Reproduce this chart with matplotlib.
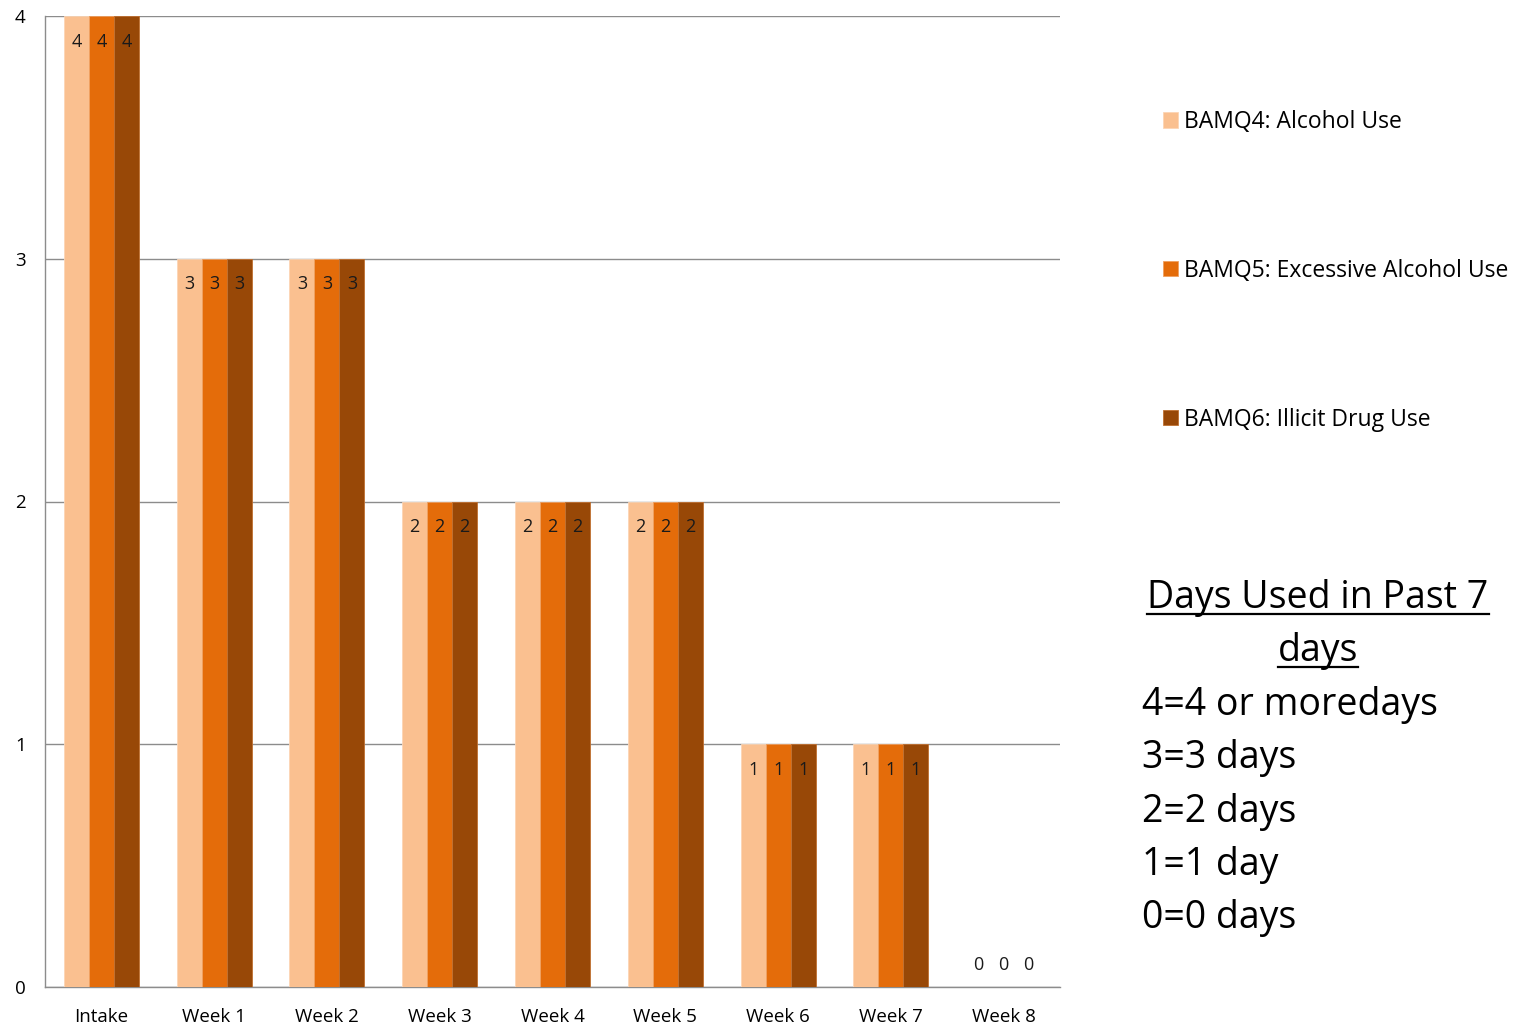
import matplotlib
matplotlib.use("Agg")
import matplotlib.pyplot as plt
from matplotlib.lines import Line2D
import numpy as np

plt.rcParams['font.family'] = ['Open Sans', 'DejaVu Sans']

categories = ["Intake", "Week 1", "Week 2", "Week 3", "Week 4",
              "Week 5", "Week 6", "Week 7", "Week 8"]
alcohol_use = [4, 3, 3, 2, 2, 2, 1, 1, 0]
excessive_alcohol = [4, 3, 3, 2, 2, 2, 1, 1, 0]
illicit_drug = [4, 3, 3, 2, 2, 2, 1, 1, 0]
series_names = ["BAMQ4: Alcohol Use", "BAMQ5: Excessive Alcohol Use",
                "BAMQ6: Illicit Drug Use"]
y_ticks = [0, 1, 2, 3, 4]
key_title = "Days Used in Past 7"
key_title_2 = "days"
key_lines = ["4=4 or moredays", "3=3 days", "2=2 days", "1=1 day", "0=0 days"]

colors = ["#FAC090", "#E46C0A", "#984807"]
edges = ["#FCD5B5", "#F0A060", "#C07030"]
grid_gray = "#8C8C8C"

W, H = 1517, 1031
fig = plt.figure(figsize=(W / 100, H / 100), dpi=100)
ax = fig.add_axes([45 / W, 1 - 987 / H, (1060 - 45) / W, (987 - 16) / H])

x = np.arange(len(categories))
bw = 0.2216
handles = []
for i, vals in enumerate([alcohol_use, excessive_alcohol, illicit_drug]):
    pos = x + (i - 1) * bw
    bars = ax.bar(pos, vals, width=bw, color=colors[i], edgecolor=edges[i],
                  linewidth=0.6, zorder=3, label=series_names[i])
    handles.append(bars)
    for px, v in zip(pos, vals):
        off = -18.5 if v > 0 else 15.8
        ax.annotate(str(v), (px, v), xytext=(0, off), textcoords="offset points",
                    ha="center", va="center", fontsize=13, color="#1a1a1a",
                    zorder=4)

ax.set_xlim(-0.5, len(categories) - 0.5)
ax.set_ylim(0, 4)
ax.set_yticks(y_ticks)
ax.set_xticks(x)
ax.set_xticklabels(categories)
ax.tick_params(axis="y", length=0, pad=14, labelsize=13.5)
ax.tick_params(axis="x", length=0, pad=15, labelsize=13.5)
ax.yaxis.grid(True, color=grid_gray, linewidth=1.0, zorder=0)
ax.set_axisbelow(True)
for s in ["top", "right"]:
    ax.spines[s].set_visible(False)
for s in ["left", "bottom"]:
    ax.spines[s].set_color(grid_gray)
    ax.spines[s].set_linewidth(1.0)

leg = fig.legend(handles=handles, labels=series_names, loc="upper left",
                 bbox_to_anchor=(1163 / W, 1 - 110 / H), frameon=False,
                 fontsize=16.5, handlelength=0.65, handleheight=0.65,
                 handletextpad=0.28, labelspacing=5.45, borderaxespad=0,
                 borderpad=0)

# key text block
fs = 27
title_y = 598
line_h = 53.4
t1 = fig.text(1318 / W, 1 - title_y / H, key_title, ha="center", va="center",
              fontsize=fs)
t2 = fig.text(1318 / W, 1 - (title_y + line_h) / H, key_title_2, ha="center",
              va="center", fontsize=fs)
for j, line in enumerate(key_lines):
    fig.text(1142 / W, 1 - (title_y + line_h * (j + 2)) / H, line,
             ha="left", va="center", fontsize=fs)

# underline the key title
fig.canvas.draw()
renderer = fig.canvas.get_renderer()
for t, uy in [(t1, 614), (t2, 667)]:
    bb = t.get_window_extent(renderer)
    fig.add_artist(Line2D([bb.x0 / W, bb.x1 / W], [1 - uy / H, 1 - uy / H],
                          color="black", linewidth=1.6,
                          transform=fig.transFigure))

fig.savefig("out.png", dpi=100)
